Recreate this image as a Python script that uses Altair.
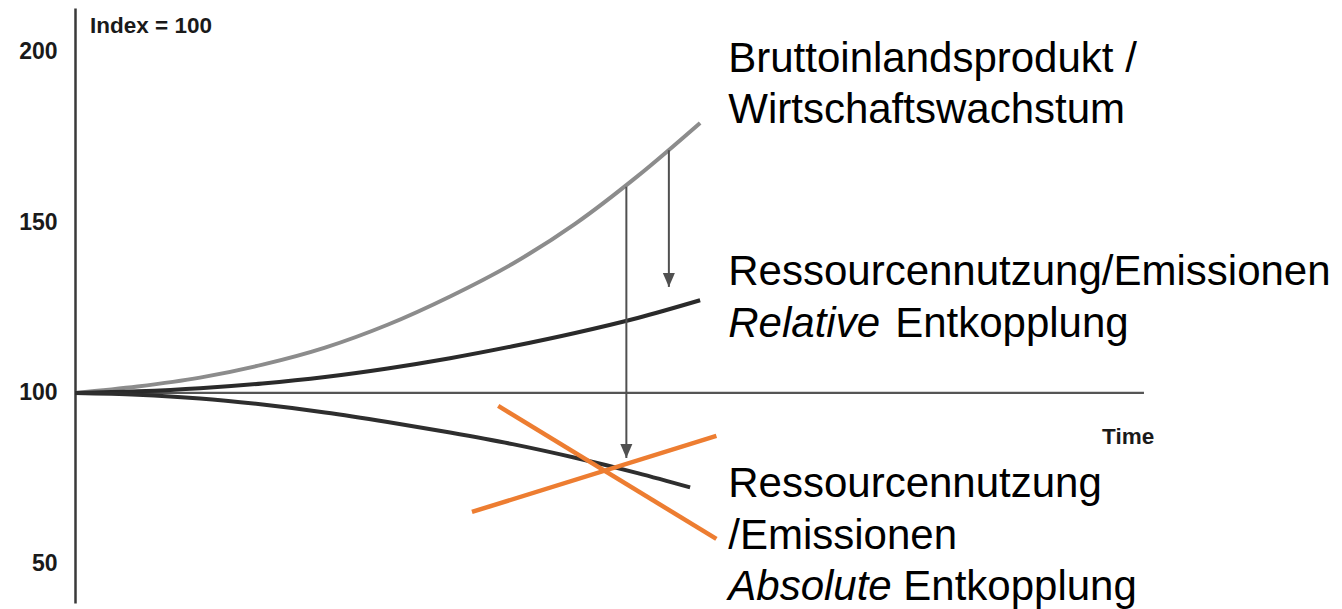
import altair as alt
import pandas as pd

# --- data ---
t_grid = [0, 10, 20, 30, 40, 50, 60, 70, 80, 90, 100]
v_gdp = [100, 101.9, 104.5, 108.3, 113.3, 120.0, 128.3, 137.9, 149.6, 163.6, 179.2]
v_rel = [100, 100.5, 101.4, 102.8, 104.7, 107.2, 110.2, 113.7, 117.6, 122.0, 127.2]

t_abs = [0, 10, 20, 30, 40, 50, 60, 70, 80, 90, 98.4]
v_abs = [100, 99.5, 98.4, 96.6, 94.3, 91.5, 88.4, 85.0, 81.0, 76.5, 72.3]

# baseline (index = 100) over time
base_t = [0, 171]
base_v = [100, 100]

# arrows: x position, start value (on GDP), tip value
arrow_t = [95, 88.2]
arrow_from = [171.2, 160.5]
arrow_to = [131.1, 80.9]

# orange cross
cross_t1 = [67.7, 63.5]
cross_v1 = [96.2, 65.1]
cross_t2 = [102.6, 102.6]
cross_v2 = [57.2, 87.4]

y_ticks = [50, 100, 150, 200]

# annotation texts
normal_t = [104.5, 104.5, 104.5, 131.2, 104.5, 104.5, 132.5]
normal_v = [194.1, 179.2, 131.7, 116.4, 69.5, 54.25, 39.3]
normal_text = ["Bruttoinlandsprodukt /", "Wirtschaftswachstum",
               "Ressourcennutzung/Emissionen", "Entkopplung",
               "Ressourcennutzung", "/Emissionen", "Entkopplung"]
italic_t = [104.5, 104.5]
italic_v = [116.4, 39.3]
italic_text = ["Relative", "Absolute"]
bold_t = [2.4, 164.3]
bold_v = [205.6, 85.0]
bold_text = ["Index = 100", "Time"]

xs = alt.Scale(domain=[0, 201.4], nice=False, zero=False)
ys = alt.Scale(domain=[38.4, 212.9], nice=False, zero=False)

y_axis = alt.Axis(values=y_ticks, ticks=False, grid=False, title=None,
                  labelFont="Liberation Sans", labelFontWeight="bold",
                  labelFontSize=23, labelColor="#1a1a1a", labelPadding=18,
                  domainColor="#3a3a3a", domainWidth=2.5)


def X(f="t"):
    return alt.X(f"{f}:Q", scale=xs, axis=None)


def Y(f="v"):
    return alt.Y(f"{f}:Q", scale=ys, axis=y_axis)


base = alt.Chart(pd.DataFrame({"t": base_t, "v": base_v})).mark_line(
    color="#555555", strokeWidth=2.2).encode(x=X(), y=Y())

gdp = alt.Chart(pd.DataFrame({"t": t_grid, "v": v_gdp})).mark_line(
    color="#8c8c8c", strokeWidth=4, interpolate="monotone").encode(x=X(), y=Y())
rel = alt.Chart(pd.DataFrame({"t": t_grid, "v": v_rel})).mark_line(
    color="#2a2a2a", strokeWidth=4, interpolate="monotone").encode(x=X(), y=Y())
ab = alt.Chart(pd.DataFrame({"t": t_abs, "v": v_abs})).mark_line(
    color="#2e2e2e", strokeWidth=4, interpolate="monotone").encode(x=X(), y=Y())

arr_df = pd.DataFrame({"t": arrow_t, "v": arrow_from, "v2": arrow_to})
arrow_lines = alt.Chart(arr_df).mark_rule(color="#505050", strokeWidth=2).encode(
    x=X(), y=Y(), y2="v2:Q")
arrow_heads = alt.Chart(arr_df).mark_point(
    shape="M -0.43 -1 L 0.43 -1 L 0 0 Z", size=784, filled=True,
    color="#505050", opacity=1).encode(x=X(), y=Y("v2"))

cross_df = pd.DataFrame({"t": cross_t1, "v": cross_v1, "t2": cross_t2, "v2": cross_v2})
cross = alt.Chart(cross_df).mark_rule(color="#ED7D31", strokeWidth=4.5).encode(
    x=X(), y=Y(), x2="t2:Q", y2="v2:Q")

txt_normal = alt.Chart(pd.DataFrame({"t": normal_t, "v": normal_v, "s": normal_text})).mark_text(
    font="Liberation Sans", fontSize=42, align="left", baseline="alphabetic",
    color="#000000").encode(x=X(), y=Y(), text="s:N")
txt_italic = alt.Chart(pd.DataFrame({"t": italic_t, "v": italic_v, "s": italic_text})).mark_text(
    font="Liberation Sans", fontSize=42, fontStyle="italic", align="left",
    baseline="alphabetic", color="#000000").encode(x=X(), y=Y(), text="s:N")
txt_bold = alt.Chart(pd.DataFrame({"t": bold_t, "v": bold_v, "s": bold_text})).mark_text(
    font="Liberation Sans", fontSize=22.5, fontWeight="bold", align="left",
    baseline="alphabetic", color="#1a1a1a").encode(x=X(), y=Y(), text="s:N")

chart = alt.layer(
    base, gdp, rel, ab, arrow_lines, arrow_heads, cross,
    txt_normal, txt_italic, txt_bold
).properties(
    width=1259, height=595,
    padding={"left": 67, "top": 0, "right": 0, "bottom": 14},
    autosize="none", background="white"
).configure_view(stroke=None)

chart.save("out.html", embed_options={"renderer": "svg", "actions": False})
